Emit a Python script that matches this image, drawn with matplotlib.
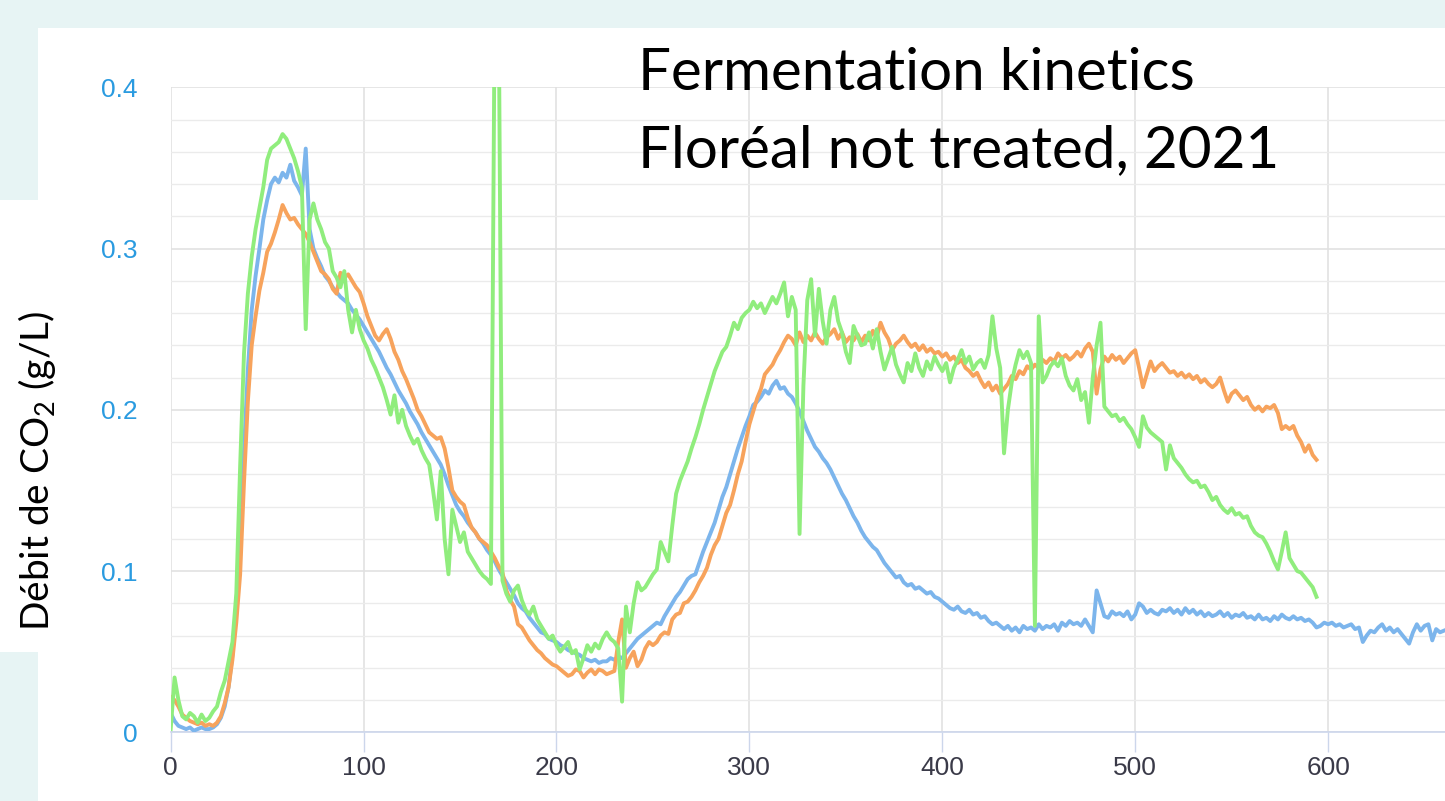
import matplotlib
matplotlib.use("Agg")
import matplotlib.pyplot as plt
from matplotlib.patches import Rectangle
from matplotlib.ticker import MultipleLocator

# Sampling every 2 h
hours_blue = list(range(0, 662, 2))
hours_short = list(range(0, 596, 2))

blue = [
    0.012, 0.007, 0.004, 0.003, 0.002, 0.003, 0.001, 0.002, 0.003, 0.002,
    0.002, 0.003, 0.005, 0.009, 0.016, 0.028, 0.048, 0.078, 0.125, 0.175,
    0.225, 0.262, 0.283, 0.300, 0.318, 0.330, 0.340, 0.344, 0.341, 0.347,
    0.344, 0.352, 0.342, 0.338, 0.333, 0.362, 0.312, 0.300, 0.294, 0.289,
    0.283, 0.280, 0.276, 0.273, 0.270, 0.268, 0.266, 0.262, 0.259, 0.256,
    0.252, 0.248, 0.244, 0.240, 0.236, 0.231, 0.226, 0.222, 0.217, 0.212,
    0.208, 0.204, 0.199, 0.195, 0.191, 0.186, 0.182, 0.178, 0.174, 0.170,
    0.166, 0.160, 0.153, 0.147, 0.141, 0.137, 0.134, 0.130, 0.127, 0.124,
    0.120, 0.117, 0.113, 0.110, 0.106, 0.101, 0.097, 0.093, 0.089, 0.085,
    0.080, 0.077, 0.075, 0.071, 0.068, 0.065, 0.062, 0.061, 0.058, 0.057,
    0.056, 0.054, 0.053, 0.051, 0.050, 0.049, 0.048, 0.046, 0.045, 0.044,
    0.045, 0.043, 0.044, 0.044, 0.046, 0.045, 0.047, 0.046, 0.049, 0.052,
    0.055, 0.058, 0.060, 0.062, 0.064, 0.066, 0.068, 0.067, 0.072, 0.076,
    0.080, 0.084, 0.087, 0.091, 0.095, 0.097, 0.098, 0.105, 0.112, 0.118,
    0.124, 0.130, 0.138, 0.146, 0.152, 0.160, 0.168, 0.176, 0.183, 0.190,
    0.196, 0.203, 0.205, 0.208, 0.212, 0.210, 0.215, 0.218, 0.213, 0.214,
    0.210, 0.208, 0.204, 0.199, 0.193, 0.187, 0.182, 0.177, 0.174, 0.170,
    0.167, 0.163, 0.158, 0.153, 0.148, 0.144, 0.139, 0.134, 0.130, 0.125,
    0.121, 0.118, 0.115, 0.113, 0.109, 0.105, 0.102, 0.099, 0.096, 0.097,
    0.093, 0.091, 0.092, 0.089, 0.090, 0.088, 0.086, 0.087, 0.084, 0.083,
    0.081, 0.079, 0.077, 0.076, 0.078, 0.075, 0.074, 0.076, 0.073, 0.074,
    0.071, 0.072, 0.069, 0.067, 0.068, 0.066, 0.064, 0.066, 0.063, 0.065,
    0.062, 0.066, 0.064, 0.065, 0.063, 0.067, 0.064, 0.066, 0.065, 0.067,
    0.063, 0.068, 0.066, 0.069, 0.067, 0.068, 0.066, 0.070, 0.066, 0.062,
    0.088, 0.080, 0.072, 0.071, 0.075, 0.073, 0.074, 0.072, 0.075, 0.070,
    0.073, 0.080, 0.078, 0.074, 0.076, 0.074, 0.073, 0.076, 0.075, 0.077,
    0.074, 0.076, 0.073, 0.077, 0.074, 0.076, 0.073, 0.075, 0.072, 0.074,
    0.072, 0.073, 0.075, 0.072, 0.074, 0.071, 0.073, 0.072, 0.074, 0.071,
    0.072, 0.070, 0.073, 0.070, 0.071, 0.069, 0.072, 0.070, 0.073, 0.071,
    0.070, 0.072, 0.070, 0.071, 0.069, 0.070, 0.068, 0.065, 0.066, 0.068,
    0.067, 0.068, 0.066, 0.067, 0.065, 0.066, 0.067, 0.064, 0.065, 0.056,
    0.060, 0.063, 0.062, 0.065, 0.067, 0.063, 0.065, 0.062, 0.064, 0.061,
    0.058, 0.055, 0.062, 0.067, 0.063, 0.066, 0.067, 0.057, 0.064, 0.062,
    0.063,
]

orange = [
    0.022, 0.020, 0.016, 0.011, 0.009, 0.007, 0.006, 0.005, 0.006, 0.004,
    0.005, 0.004, 0.006, 0.010, 0.018, 0.028, 0.045, 0.068, 0.098, 0.155,
    0.205, 0.240, 0.258, 0.274, 0.285, 0.298, 0.303, 0.310, 0.318, 0.327,
    0.322, 0.318, 0.319, 0.315, 0.312, 0.309, 0.304, 0.298, 0.292, 0.286,
    0.284, 0.281, 0.275, 0.272, 0.285, 0.282, 0.284, 0.280, 0.276, 0.273,
    0.266, 0.258, 0.252, 0.246, 0.243, 0.247, 0.250, 0.244, 0.236, 0.231,
    0.224, 0.219, 0.213, 0.207, 0.200, 0.196, 0.191, 0.186, 0.184, 0.182,
    0.183, 0.176, 0.164, 0.150, 0.146, 0.143, 0.141, 0.133, 0.127, 0.124,
    0.120, 0.118, 0.116, 0.112, 0.108, 0.103, 0.099, 0.088, 0.082, 0.078,
    0.067, 0.065, 0.061, 0.057, 0.054, 0.051, 0.049, 0.046, 0.044, 0.042,
    0.041, 0.039, 0.037, 0.035, 0.036, 0.039, 0.038, 0.034, 0.037, 0.039,
    0.036, 0.039, 0.038, 0.036, 0.037, 0.038, 0.056, 0.070, 0.040, 0.046,
    0.050, 0.041, 0.045, 0.052, 0.056, 0.054, 0.056, 0.060, 0.062, 0.061,
    0.070, 0.073, 0.074, 0.080, 0.081, 0.084, 0.088, 0.093, 0.097, 0.102,
    0.110, 0.116, 0.120, 0.128, 0.136, 0.141, 0.150, 0.160, 0.168, 0.180,
    0.191, 0.199, 0.207, 0.213, 0.222, 0.225, 0.228, 0.233, 0.237, 0.242,
    0.246, 0.244, 0.240, 0.248, 0.242, 0.246, 0.243, 0.248, 0.244, 0.241,
    0.245, 0.247, 0.250, 0.244, 0.248, 0.242, 0.245, 0.243, 0.247, 0.242,
    0.246, 0.243, 0.249, 0.245, 0.254, 0.248, 0.244, 0.237, 0.241, 0.243,
    0.246, 0.242, 0.239, 0.241, 0.237, 0.240, 0.236, 0.238, 0.235, 0.236,
    0.233, 0.235, 0.231, 0.233, 0.229, 0.231, 0.226, 0.224, 0.221, 0.223,
    0.218, 0.214, 0.217, 0.212, 0.215, 0.210, 0.213, 0.216, 0.221, 0.219,
    0.224, 0.222, 0.227, 0.225, 0.228, 0.226, 0.231, 0.229, 0.232, 0.230,
    0.235, 0.232, 0.234, 0.231, 0.233, 0.236, 0.233, 0.238, 0.241, 0.236,
    0.210, 0.225, 0.233, 0.230, 0.234, 0.231, 0.233, 0.229, 0.232, 0.235,
    0.237, 0.226, 0.214, 0.222, 0.230, 0.224, 0.227, 0.229, 0.226, 0.223,
    0.224, 0.221, 0.223, 0.220, 0.222, 0.219, 0.221, 0.217, 0.219, 0.216,
    0.214, 0.216, 0.220, 0.212, 0.205, 0.210, 0.212, 0.209, 0.206, 0.208,
    0.203, 0.200, 0.202, 0.199, 0.202, 0.201, 0.203, 0.198, 0.188, 0.190,
    0.188, 0.190, 0.184, 0.180, 0.174, 0.178, 0.172, 0.169,
]

green = [
    0.002, 0.034, 0.020, 0.010, 0.008, 0.012, 0.010, 0.006, 0.011, 0.007,
    0.009, 0.013, 0.016, 0.025, 0.032, 0.044, 0.056, 0.086, 0.165, 0.235,
    0.272, 0.295, 0.312, 0.325, 0.338, 0.355, 0.362, 0.364, 0.366, 0.371,
    0.368, 0.362, 0.356, 0.348, 0.338, 0.250, 0.318, 0.328, 0.318, 0.312,
    0.304, 0.300, 0.286, 0.282, 0.276, 0.286, 0.262, 0.248, 0.262, 0.250,
    0.243, 0.238, 0.231, 0.226, 0.220, 0.214, 0.206, 0.197, 0.209, 0.192,
    0.200, 0.190, 0.184, 0.179, 0.182, 0.175, 0.170, 0.166, 0.150, 0.132,
    0.162, 0.120, 0.098, 0.138, 0.128, 0.118, 0.124, 0.112, 0.108, 0.104,
    0.100, 0.097, 0.095, 0.092, 0.460, 0.460, 0.094, 0.086, 0.081, 0.088,
    0.091, 0.082, 0.076, 0.073, 0.078, 0.070, 0.066, 0.062, 0.058, 0.060,
    0.054, 0.050, 0.053, 0.056, 0.049, 0.051, 0.039, 0.046, 0.054, 0.050,
    0.055, 0.052, 0.058, 0.062, 0.058, 0.056, 0.052, 0.019, 0.078, 0.062,
    0.080, 0.093, 0.088, 0.090, 0.094, 0.098, 0.101, 0.118, 0.112, 0.106,
    0.128, 0.148, 0.156, 0.162, 0.168, 0.176, 0.183, 0.191, 0.200, 0.208,
    0.216, 0.224, 0.230, 0.236, 0.239, 0.246, 0.254, 0.250, 0.257, 0.260,
    0.262, 0.267, 0.263, 0.266, 0.260, 0.265, 0.270, 0.266, 0.272, 0.279,
    0.258, 0.270, 0.262, 0.123, 0.215, 0.268, 0.281, 0.246, 0.275, 0.255,
    0.241, 0.262, 0.270, 0.255, 0.248, 0.236, 0.229, 0.252, 0.246, 0.240,
    0.241, 0.248, 0.238, 0.250, 0.236, 0.225, 0.232, 0.239, 0.228, 0.222,
    0.217, 0.229, 0.224, 0.235, 0.226, 0.221, 0.230, 0.225, 0.233, 0.228,
    0.224, 0.229, 0.217, 0.226, 0.231, 0.237, 0.229, 0.233, 0.225, 0.229,
    0.231, 0.226, 0.234, 0.258, 0.238, 0.226, 0.173, 0.200, 0.217, 0.228,
    0.237, 0.232, 0.236, 0.229, 0.066, 0.258, 0.217, 0.221, 0.227, 0.230,
    0.227, 0.232, 0.221, 0.215, 0.212, 0.219, 0.206, 0.211, 0.192, 0.220,
    0.240, 0.254, 0.202, 0.199, 0.196, 0.197, 0.193, 0.195, 0.191, 0.188,
    0.183, 0.177, 0.196, 0.189, 0.186, 0.184, 0.182, 0.180, 0.163, 0.178,
    0.170, 0.167, 0.164, 0.160, 0.157, 0.155, 0.156, 0.152, 0.153, 0.149,
    0.144, 0.146, 0.141, 0.138, 0.136, 0.139, 0.135, 0.136, 0.133, 0.134,
    0.128, 0.124, 0.122, 0.121, 0.117, 0.112, 0.106, 0.101, 0.112, 0.124,
    0.108, 0.104, 0.100, 0.099, 0.096, 0.093, 0.090, 0.084,
]

x_ticks = [0, 100, 200, 300, 400, 500, 600]
y_ticks = [0, 0.1, 0.2, 0.3, 0.4]
y_tick_labels = ["0", "0.1", "0.2", "0.3", "0.4"]

title_lines = ["Fermentation kinetics", "Floréal not treated, 2021"]
y_label = "Débit de CO$_\\mathregular{2}$ (g/L)"

W, H = 1445, 801
text_font = ["Lato", "DejaVu Sans"]

fig = plt.figure(figsize=(W / 100, H / 100), dpi=100)
fig.patch.set_facecolor("#e7f4f4")
# white slide panel and the label box
fig.patches.append(Rectangle((38 / W, 0), 1, (H - 28) / H, transform=fig.transFigure,
                             facecolor="white", edgecolor="none", zorder=-2))
fig.patches.append(Rectangle((0, (H - 652) / H), 40 / W, 452 / H, transform=fig.transFigure,
                             facecolor="white", edgecolor="none", zorder=-2))

left, right, bottom, top = 170.7, 1445, 732.3, 87.3
ax = fig.add_axes([left / W, (H - bottom) / H, (right - left) / W, (bottom - top) / H])
ax.set_zorder(2)
ax.set_facecolor("white")

ax.plot(hours_blue, blue, color="#7cb5ec", lw=2.8, zorder=3, solid_joinstyle="round")
ax.plot(hours_short, orange, color="#f7a35c", lw=2.8, zorder=4, solid_joinstyle="round")
ax.plot(hours_short, green, color="#90ed7d", lw=2.8, zorder=5, solid_joinstyle="round")

ax.set_xlim(0, (right - left) / 1.929)
ax.set_ylim(0, 0.4)
ax.set_xticks(x_ticks)
ax.set_xticklabels([str(v) for v in x_ticks])
ax.set_yticks(y_ticks)
ax.set_yticklabels(y_tick_labels)
ax.yaxis.set_minor_locator(MultipleLocator(0.02))

ax.grid(True, which="major", axis="both", color="#e1e1e1", lw=1.2, zorder=0)
ax.grid(True, which="minor", axis="y", color="#ebebeb", lw=1.0, zorder=0)
ax.set_axisbelow(True)

for side in ["top", "right", "left"]:
    ax.spines[side].set_visible(False)
ax.spines["bottom"].set_color("#ccd6eb")
ax.spines["bottom"].set_linewidth(1.2)

ax.tick_params(axis="x", length=14.4, width=1, color="#ccd6eb", pad=3,
               labelsize=19, labelcolor="#3a3a48")
ax.tick_params(axis="y", which="both", length=0, pad=24, labelsize=19,
               labelcolor="#2a9be0")
for lab in ax.get_xticklabels() + ax.get_yticklabels():
    lab.set_family("Liberation Sans")

fig.text(638 / W, 1 - 90 / H, title_lines[0], ha="left", va="baseline",
         fontsize=42, family=text_font, color="black", zorder=5)
fig.text(638 / W, 1 - 167 / H, title_lines[1], ha="left", va="baseline",
         fontsize=42, family=text_font, color="black", zorder=5)

fig.text(37 / W, 1 - 471 / H, y_label, rotation=90, ha="center", va="center",
         fontsize=28, family=text_font, color="black", zorder=5)

fig.savefig("out.png", dpi=100, facecolor=fig.get_facecolor())
